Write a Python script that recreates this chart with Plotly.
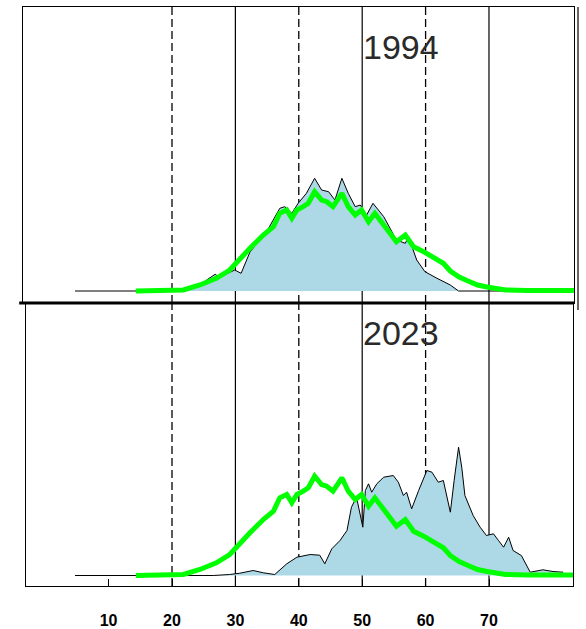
import plotly.graph_objects as go

# Age distributions (relative frequency per age), 1994 and 2023
age_1994 = [4.7, 21.5, 23.9, 26.8, 27.5, 29.9, 30.9, 32.3, 34.9, 37.0, 37.8, 38.9, 39.9,
            41.2, 42.5, 43.6, 44.7, 45.7, 46.8, 47.8, 48.9, 49.7, 50.7, 51.7, 53.4, 55.4,
            56.8, 57.3, 58.6, 59.9, 61.8, 63.9, 65.2, 82.0]
dens_1994 = [0, 0, 4.3, 16.7, 13.7, 21, 17.7, 39, 59, 82.7, 84.3, 77.7, 87.7,
             97.7, 112.7, 101, 99.3, 91, 112.7, 97.7, 84.3, 86, 76, 87.7, 74.3, 51,
             47.7, 54.3, 31, 19.3, 12.7, 6, 0, 0]

age_2023 = [4.7, 26.5, 29.1, 30.7, 32.8, 34.4, 36.2, 38.1, 39.7, 41.8, 43.3, 44.1, 45.2,
            46.5, 47.6, 48.3, 49.1, 49.6, 50.1, 50.5, 51.0, 51.5, 52.3, 53.4, 54.9, 55.7,
            56.5, 57.0, 57.8, 58.9, 60.2, 61.0, 62.0, 62.8, 63.9, 64.5, 65.2, 65.7, 66.2,
            67.5, 68.6, 69.6, 70.7, 71.5, 72.3, 73.1, 73.8, 75.1, 76.5, 78.5, 80.1, 81.7]
dens_2023 = [0, 0, 1, 2.3, 5, 2.7, 1, 11.7, 18.3, 21, 20.3, 11.7, 26.7,
             35, 45, 68.3, 78.3, 61.7, 48.3, 85, 91.7, 83.3, 91.7, 98.3, 100, 93.3,
             80, 83.3, 66.7, 85, 105, 103.3, 93.3, 95, 63.3, 95, 128.3, 108.3, 80,
             60, 48.3, 40, 41.7, 35, 28.3, 38.3, 25, 20, 3.3, 5.7, 4, 3.3]

# Reference curve drawn in both panels
age_ref = [14.3, 20.6, 21.8, 24.4, 27.0, 29.1, 30.7, 32.3, 34.4, 36.0, 37.0, 38.1, 38.9,
           39.7, 40.7, 41.5, 42.5, 43.6, 44.4, 45.4, 46.8, 47.8, 48.9, 49.9, 51.0, 52.0,
           53.4, 55.4, 56.8, 58.1, 59.7, 61.0, 62.8, 63.9, 65.3, 66.7, 68.2, 69.7, 72.6,
           76.0, 83.4]
dens_ref = [0, 0, 1, 6, 12.7, 21, 31, 42.7, 56, 64.3, 77.7, 81, 72.7,
            81, 84.3, 87.7, 99.3, 91, 89.3, 84.3, 97.7, 84.3, 76, 81, 69.3, 77.7,
            66, 49.3, 56, 44.3, 39.3, 34.3, 27.7, 20, 14, 10, 6, 4, 1,
            0.5, 0.5]

panel_years = ["1994", "2023"]
tick_vals = [10, 20, 30, 40, 50, 60, 70]
solid_refs = [30, 50, 70]
dashed_refs = [20, 40, 60]

FILL = "#add8e6"
GREEN = "#00ff00"

fig = go.Figure()
panels = [("x", "y", age_1994, dens_1994), ("x2", "y2", age_2023, dens_2023)]
for xa, ya, ages, dens in panels:
    fig.add_trace(go.Scatter(x=ages, y=dens, xaxis=xa, yaxis=ya, mode="lines",
                             fill="tozeroy", fillcolor=FILL,
                             line=dict(color="black", width=1), hoverinfo="skip"))
    fig.add_trace(go.Scatter(x=age_ref, y=dens_ref, xaxis=xa, yaxis=ya, mode="lines",
                             line=dict(color=GREEN, width=5), hoverinfo="skip"))

shapes = []
for xa, ya in [("x", "y"), ("x2", "y2")]:
    for v in solid_refs:
        shapes.append(dict(type="line", xref=xa, yref=f"{ya} domain", x0=v, x1=v, y0=0, y1=1,
                           line=dict(color="black", width=1.2), layer="below"))
    for v in dashed_refs:
        shapes.append(dict(type="line", xref=xa, yref=f"{ya} domain", x0=v, x1=v, y0=0, y1=1,
                           line=dict(color="black", width=1.3, dash="8px,4px"), layer="below"))
# heavy divider under the upper panel
shapes.append(dict(type="line", xref="x domain", yref="y domain", x0=-0.006, x1=1, y0=0, y1=0,
                   line=dict(color="black", width=3)))
# edge of the neighbouring panel on the right
shapes.append(dict(type="line", xref="paper", yref="paper", x0=578 / 586, x1=578 / 586,
                   y0=1 - 310 / 629, y1=1 - 7 / 629, line=dict(color="black", width=1.2)))

annotations = []
for ya, year, yv in [("y", panel_years[0], 244), ("y2", panel_years[1], 243)]:
    annotations.append(dict(text=year, xref="x" if ya == "y" else "x2", yref=ya,
                            x=56.1, y=yv, showarrow=False, xanchor="center", yanchor="middle",
                            font=dict(family="Liberation Sans, Arial", size=34, color="#2a2a2a")))

frame = dict(showline=True, mirror=True, linecolor="black", linewidth=1.3,
             showgrid=False, zeroline=False)

fig.update_layout(
    width=586, height=629,
    margin=dict(l=0, r=0, t=0, b=0),
    paper_bgcolor="white", plot_bgcolor="white",
    showlegend=False,
    shapes=shapes,
    annotations=annotations,
    xaxis=dict(domain=[22.5 / 586, 574 / 586], range=[-3.58, 83.41], anchor="y",
               showticklabels=False, ticks="", **frame),
    yaxis=dict(domain=[1 - 303 / 629, 1 - 7 / 629], range=[-12, 284], anchor="x",
               showticklabels=False, ticks="", **frame),
    xaxis2=dict(domain=[25.5 / 586, 573 / 586], range=[-3.11, 83.25], anchor="y2",
                tickvals=tick_vals, ticktext=[str(v) for v in tick_vals],
                ticks="inside", ticklen=7, tickcolor="black", tickwidth=1.2,
                ticklabelstandoff=20,
                tickfont=dict(family="Liberation Sans Narrow, Liberation Sans, Arial", size=16,
                              color="black", weight="bold"),
                **frame),
    yaxis2=dict(domain=[1 - 586 / 629, 1 - 304 / 629], range=[-10.5, 271.5], anchor="x2",
                showticklabels=False, ticks="", **frame),
)

fig.write_html("out.html")
